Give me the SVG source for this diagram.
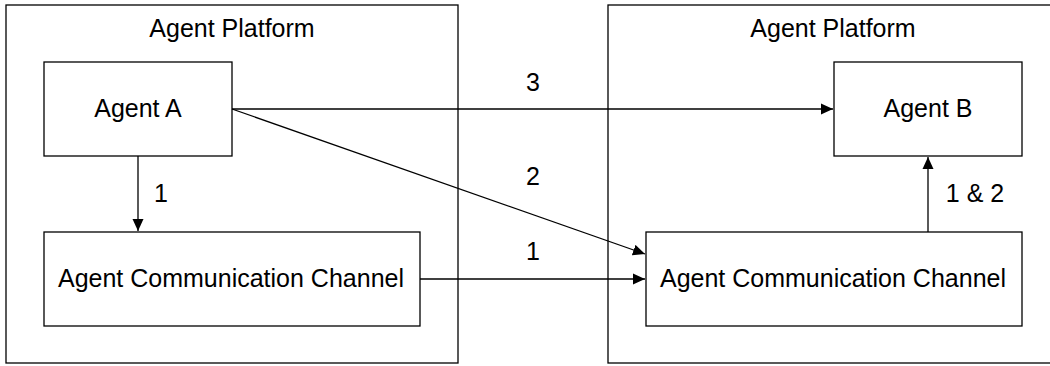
<svg xmlns="http://www.w3.org/2000/svg" width="1050" height="366" viewBox="0 0 1050 366">
<style>
.box{fill:#fff;stroke:#000;stroke-width:1.3}
.plat{fill:#fff;stroke:#000;stroke-width:1.3}
text{font-family:"Liberation Sans",Arial,sans-serif;font-size:25px;fill:#000;text-anchor:middle}
.edge{fill:none;stroke:#000;stroke-width:1.3}
</style>
<defs>
<marker id="arr" markerUnits="userSpaceOnUse" markerWidth="14" markerHeight="12" refX="12" refY="6" orient="auto">
<path d="M0,0.5 L12,6 L0,11.5 z" fill="#000"/>
</marker>
</defs>
<g id="platform-left">
<rect class="plat" x="6" y="5" width="452" height="358"/>
<text x="232" y="37">Agent Platform</text>
</g>
<g id="platform-right">
<rect class="plat" x="608" y="5" width="452" height="358"/>
<text x="833" y="37">Agent Platform</text>
</g>
<g id="agent-a">
<rect class="box" x="44" y="62" width="188" height="94"/>
<text x="138" y="117">Agent A</text>
</g>
<g id="acc-left">
<rect class="box" x="44" y="232" width="376" height="94"/>
<text x="231" y="287">Agent Communication Channel</text>
</g>
<g id="agent-b">
<rect class="box" x="834" y="62" width="188" height="94"/>
<text x="928" y="117">Agent B</text>
</g>
<g id="acc-right">
<rect class="box" x="646" y="232" width="376" height="94"/>
<text x="833" y="287">Agent Communication Channel</text>
</g>
<g id="connectors">
<line class="edge" x1="138" y1="156" x2="138" y2="231" marker-end="url(#arr)"/>
<text x="161" y="202">1</text>
<line class="edge" x1="232" y1="109" x2="833" y2="109" marker-end="url(#arr)"/>
<text x="533" y="91">3</text>
<line class="edge" x1="232" y1="109" x2="645" y2="254" marker-end="url(#arr)"/>
<text x="533" y="185">2</text>
<line class="edge" x1="420" y1="279" x2="645" y2="279" marker-end="url(#arr)"/>
<text x="533" y="260">1</text>
<line class="edge" x1="928" y1="232" x2="928" y2="157" marker-end="url(#arr)"/>
<text x="975" y="202">1 &amp; 2</text>
</g>
</svg>
